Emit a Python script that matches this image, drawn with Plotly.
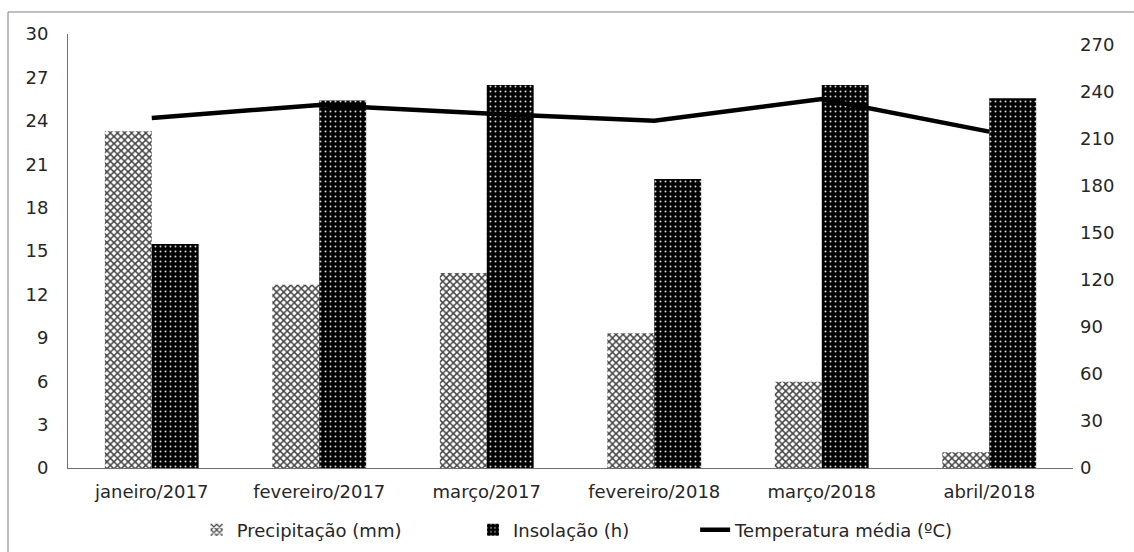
import plotly.graph_objects as go

# Monthly climate data
meses = ["janeiro/2017", "fevereiro/2017", "março/2017",
         "fevereiro/2018", "março/2018", "abril/2018"]
precipitacao_mm = [215, 117, 124.5, 86, 55, 10]
insolacao_h = [143, 234.5, 244.5, 184.5, 244.5, 236]
temperatura_c = [24.2, 25.1, 24.5, 24.0, 25.5, 23.25]

ticks_esq = [0, 3, 6, 9, 12, 15, 18, 21, 24, 27, 30]
ticks_dir = [0, 30, 60, 90, 120, 150, 180, 210, 240, 270]

FONT = "DejaVu Sans"
TXT = "#262626"
AXIS = "#6e6e6e"

fig = go.Figure()

fig.add_trace(go.Bar(
    x=meses, y=precipitacao_mm, name="Precipitação (mm)", yaxis="y",
    legend="legend",
    marker=dict(
        color="#a6a6a6", line=dict(width=0),
        pattern=dict(shape="x", fgcolor="#444444", bgcolor="#ffffff",
                     size=5, solidity=0.5, fillmode="replace"),
    ),
))
fig.add_trace(go.Bar(
    x=meses, y=insolacao_h, name="Insolação (h)", yaxis="y",
    legend="legend2",
    marker=dict(
        color="#000000", line=dict(width=0),
        pattern=dict(shape=".", fgcolor="#d9d9d9", bgcolor="#000000",
                     size=5, solidity=0.12, fillmode="replace"),
    ),
))
fig.add_trace(go.Scatter(
    x=meses, y=temperatura_c, name="Temperatura média (ºC)", yaxis="y2",
    legend="legend3",
    mode="lines", line=dict(color="#000000", width=4.5),
))


def legenda(x):
    return dict(
        orientation="h", x=x, xanchor="left", y=-0.143, yanchor="middle",
        font=dict(family=FONT, size=18, color=TXT),
        bgcolor="rgba(0,0,0,0)", borderwidth=0,
    )


fig.update_layout(
    width=1134, height=552,
    margin=dict(l=68, r=61, t=34, b=84, autoexpand=False),
    paper_bgcolor="#ffffff", plot_bgcolor="#ffffff",
    font=dict(family=FONT, size=18, color=TXT),
    barmode="group", bargap=0.44, bargroupgap=0,
    showlegend=True,
    legend=legenda(0.128),
    legend2=legenda(0.403),
    legend3=legenda(0.624),
    xaxis=dict(
        showline=True, linecolor=AXIS, linewidth=1, ticks="",
        showgrid=False, zeroline=False, ticklabelstandoff=7,
        tickfont=dict(family=FONT, size=18, color=TXT),
    ),
    yaxis=dict(
        side="right", range=[0, 277], tickmode="array", tickvals=ticks_dir,
        showline=False, showgrid=False, zeroline=False, ticks="",
        ticklabelstandoff=6,
        tickfont=dict(family=FONT, size=18, color=TXT),
    ),
    yaxis2=dict(
        overlaying="y", side="left", range=[0, 30], tickmode="array",
        tickvals=ticks_esq, showline=True, linecolor=AXIS, linewidth=1,
        showgrid=False, zeroline=False, ticks="", ticklabelstandoff=15,
        tickfont=dict(family=FONT, size=18, color=TXT),
    ),
    shapes=[dict(
        type="rect", xref="paper", yref="paper",
        x0=-0.0597, x1=1.08, y0=-0.25, y1=1.0507,
        line=dict(color="#7f7f7f", width=1), fillcolor="rgba(0,0,0,0)",
        layer="below",
    )],
)

fig.write_html("out.html")
